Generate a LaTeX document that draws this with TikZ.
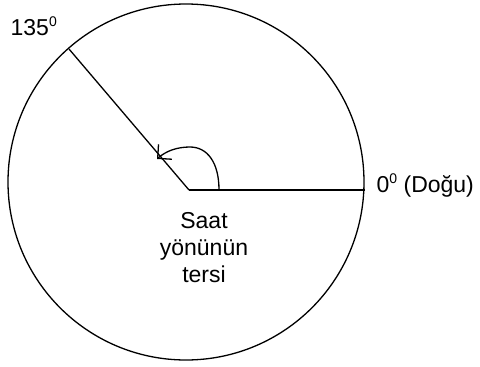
\documentclass[tikz,border=0pt]{standalone}
\usepackage{fontspec}
\setmainfont{Liberation Sans}
\usetikzlibrary{arrows.meta, positioning}
\newcommand{\supdeg}{\raisebox{9pt}{\fontsize{14}{14}\selectfont 0}}

\begin{document}
\begin{tikzpicture}[x=1pt, y=-1pt, line width=1.3pt,
    lbl/.style={font=\fontsize{23}{27}\selectfont, inner sep=0pt},
    turn/.style={-{Straight Barb[length=10pt, width=20pt, line width=1.3pt]}}]
    \useasboundingbox (0,0) rectangle (480,367);
    \coordinate (c) at (186,182);
    \coordinate (o) at (189,190);
    \coordinate (e) at (365,190);
    \coordinate (nw) at (69,49);
    \coordinate (a) at (219,190);
    \coordinate (tip) at (157,159);

    \draw (c) circle (178pt);
    \draw (o) -- (e);
    \draw (o) -- (nw);
    \draw[turn] (a) .. controls (219,162) and (207,147) .. (190,147)
        .. controls (177,147) and (166,151) .. (tip);

    \node[lbl, anchor=base west] (deg135) at (10,35) {135\supdeg};
    \node[lbl, anchor=base west] (east) at (376,192) {0\supdeg{} (Doğu)};
    \node[lbl, anchor=base, align=center] (ccw) at (204,282) {Saat\\yönünün\\tersi};
\end{tikzpicture}
\end{document}
